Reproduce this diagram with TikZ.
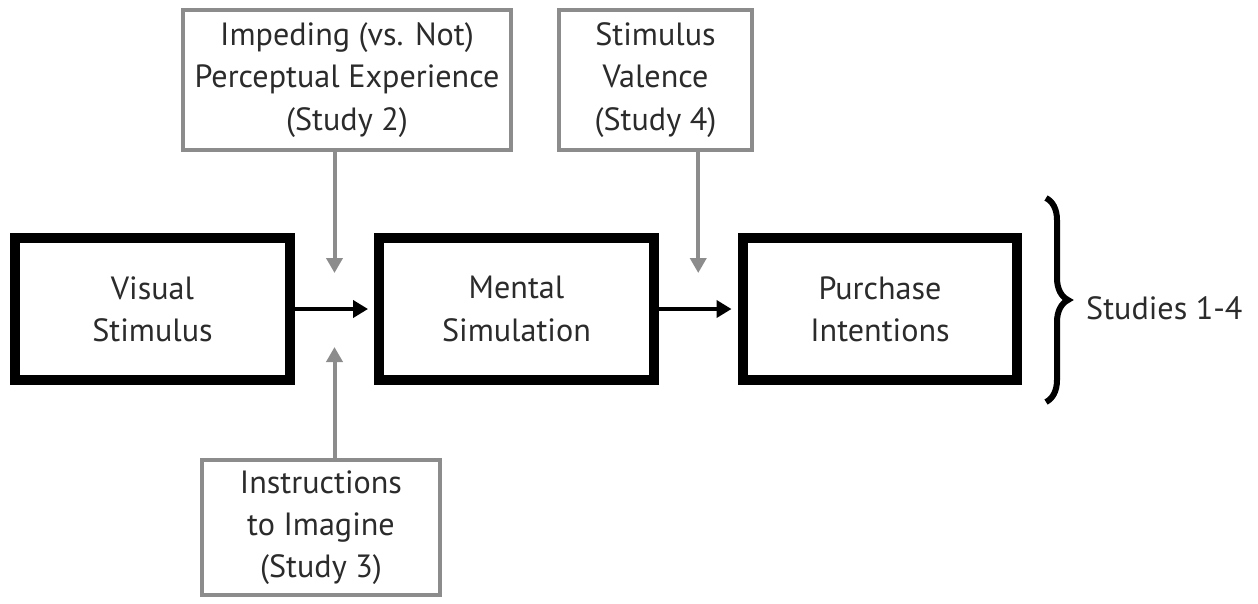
\documentclass[tikz,border=0pt]{standalone}
\usepackage{fontspec}
\setmainfont{PT Sans}
\usetikzlibrary{arrows.meta,calc,decorations.pathreplacing}
\definecolor{inkgray}{HTML}{2B2B2B}
\definecolor{modgray}{HTML}{8C8C8C}
\tikzset{
  stagebox/.style={draw=black,line width=0.2cm,minimum width=5.5cm,
    minimum height=2.84cm,align=center,text=inkgray,inner sep=0pt},
  modbox/.style={draw=modgray,line width=0.08cm,align=center,
    text=inkgray,inner sep=0pt},
  mainarrow/.style={line width=0.08cm,shorten >=0.12cm,
    -{Triangle[length=0.3cm,width=0.34cm]}},
  modarrow/.style={draw=modgray,line width=0.08cm,
    -{Triangle[length=0.3cm,width=0.32cm]}}
}

\begin{document}
\begin{tikzpicture}[x=0.02cm,y=-0.02cm,font=\fontsize{18.3}{24}\selectfont]
  \useasboundingbox (0,0) rectangle (1258,603);

  % main chain
  \node[stagebox] (visual) at (152.5,309) {Visual\\Stimulus};
  \node[stagebox] (mental) at (516.5,309) {Mental\\Simulation};
  \node[stagebox] (purchase) at (880,309) {Purchase\\Intentions};
  \draw[mainarrow] (visual) -- (mental);
  \draw[mainarrow] (mental) -- (purchase);

  % moderators, pointing at the middle of each arrow
  \coordinate (gapone) at ($(visual.east)!0.5!(mental.west)$);
  \coordinate (gaptwo) at ($(mental.east)!0.5!(purchase.west)$);
  \coordinate (gaponetop) at ($(gapone)+(0,-36)$);
  \coordinate (gaponebot) at ($(gapone)+(0,38)$);
  \coordinate (gaptwotop) at ($(gaptwo)+(0,-36)$);

  \node[modbox,minimum width=6.56cm,minimum height=2.8cm] (impede)
    at (347,80) {Impeding (vs. Not)\\Perceptual Experience\\(Study 2)};
  \node[modbox,minimum width=3.86cm,minimum height=2.8cm] (valence)
    at (655.5,80) {Stimulus\\Valence\\(Study 4)};
  \node[modbox,minimum width=4.76cm,minimum height=2.7cm] (imagine)
    at (321,527.5) {Instructions\\to Imagine\\(Study 3)};

  \draw[modarrow] (impede.south -| gapone) -- (gaponetop);
  \draw[modarrow] (valence.south -| gaptwo) -- (gaptwotop);
  \draw[modarrow] (imagine.north -| gapone) -- (gaponebot);

  % brace over the whole chain
  \coordinate (bracetop) at (1046,198);
  \coordinate (bracebot) at (1046,402);
  \draw[line width=0.12cm,decorate,
        decoration={brace,amplitude=0.44cm}] (bracetop) -- (bracebot);
  \node[anchor=west,text=inkgray] (studies) at (1080,308) {Studies 1-4};
\end{tikzpicture}
\end{document}
